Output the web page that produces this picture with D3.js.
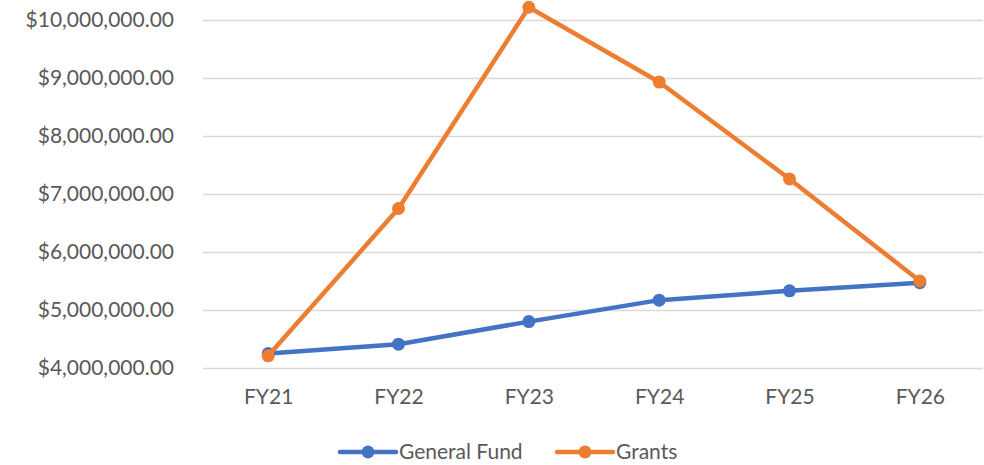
<!DOCTYPE html>
<html>
<head>
<meta charset="utf-8">
<script src="https://cdn.jsdelivr.net/npm/d3@7"></script>
<style>
  body { margin: 0; background: #fff; }
  text { font-family: Lato, "Open Sans", sans-serif; fill: #595959; }
</style>
</head>
<body>
<div id="chart"></div>
<script>
// Datos
const years = ["FY21", "FY22", "FY23", "FY24", "FY25", "FY26"];
const generalFund = [4250000, 4410000, 4800000, 5170000, 5330000, 5470000];
const grants = [4210000, 6750000, 10220000, 8930000, 7260000, 5500000];
const yTicks = [4000000, 5000000, 6000000, 7000000, 8000000, 9000000, 10000000];

const series = [
  { name: "General Fund", values: generalFund, color: "#4472C4" },
  { name: "Grants", values: grants, color: "#ED7D31" }
];

const W = 984, H = 465;
const plot = { left: 203, right: 985, top: 20, bottom: 368 };
const fontSize = "21px";

const svg = d3.select("#chart").append("svg")
  .attr("width", W)
  .attr("height", H);

const x = d3.scalePoint()
  .domain(years)
  .range([plot.left, plot.right])
  .padding(0.5);

const y = d3.scaleLinear()
  .domain([4000000, 10000000])
  .range([plot.bottom, plot.top]);

const fmt = d => "$" + d3.format(",.2f")(d);

// Eje Y con líneas de cuadrícula
const yAxis = svg.append("g")
  .attr("transform", `translate(${plot.left},0)`)
  .call(d3.axisLeft(y).tickValues(yTicks).tickFormat(fmt)
    .tickSize(-(plot.right - plot.left - 2)).tickPadding(29));
yAxis.select(".domain").remove();
yAxis.selectAll("line").attr("stroke", "#d9d9d9").attr("stroke-width", 1.5);
yAxis.selectAll("text").style("font-size", fontSize).attr("fill", "#595959");

// Eje X
const xAxis = svg.append("g")
  .attr("transform", `translate(0,${plot.bottom})`)
  .call(d3.axisBottom(x).tickSize(0).tickPadding(21));
xAxis.select(".domain").remove();
xAxis.selectAll("text").style("font-size", fontSize).attr("fill", "#595959");

// Líneas y marcadores
const line = d3.line()
  .x((d, i) => x(years[i]))
  .y(d => y(d));

series.forEach(s => {
  svg.append("path")
    .datum(s.values)
    .attr("fill", "none")
    .attr("stroke", s.color)
    .attr("stroke-width", 4.5)
    .attr("stroke-linejoin", "round")
    .attr("stroke-linecap", "round")
    .attr("d", line);

  svg.selectAll(null)
    .data(s.values)
    .enter()
    .append("circle")
    .attr("cx", (d, i) => x(years[i]))
    .attr("cy", d => y(d))
    .attr("r", 6.5)
    .attr("fill", s.color);
});

// Leyenda
const legendPos = [340, 557];
series.forEach((s, i) => {
  const g = svg.append("g").attr("transform", `translate(${legendPos[i]},452)`);
  g.append("line")
    .attr("x1", 0).attr("x2", 56)
    .attr("stroke", s.color)
    .attr("stroke-width", 4.5)
    .attr("stroke-linecap", "round");
  g.append("circle").attr("cx", 28).attr("r", 6.5).attr("fill", s.color);
  g.append("text")
    .attr("x", 59)
    .attr("dy", "0.35em")
    .style("font-size", fontSize)
    .text(s.name);
});
</script>
</body>
</html>
